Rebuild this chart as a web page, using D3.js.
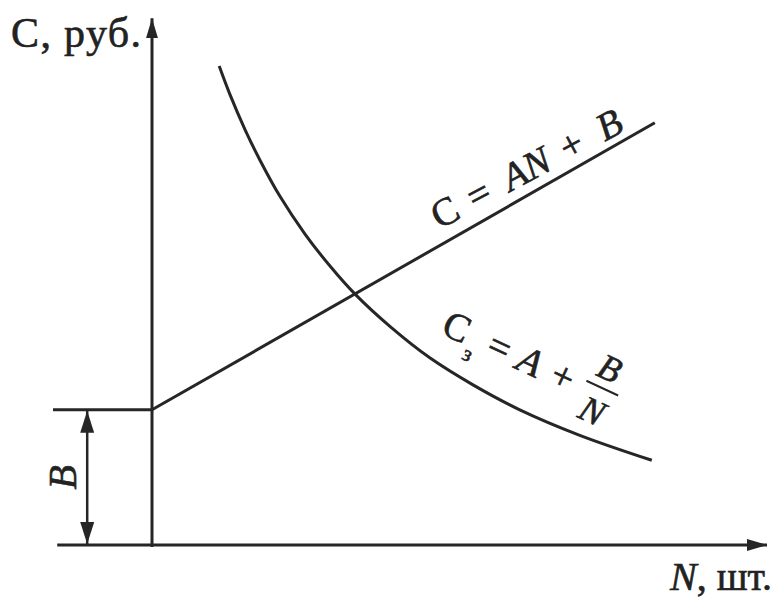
<!DOCTYPE html>
<html>
<head>
<meta charset="utf-8">
<script src="https://cdn.jsdelivr.net/npm/d3@7"></script>
<style>
  body { margin: 0; background: #fff; }
  text { font-family: "Liberation Serif", "DejaVu Serif", serif; fill: #222; stroke: #222; stroke-width: 0.6; }
</style>
</head>
<body>
<div id="chart"></div>
<script>
// total cost line C = AN + B
const costLineN = [0, 83.8];
const costLineC = [26, 81.2];
// unit cost curve C = A + B/N
const unitCostN = [11.2, 13.0, 15.5, 18.0, 21.3, 25.5, 29.7, 33.8, 39.7, 46.3, 53.5, 61.3, 71.3, 83.3];
const unitCostC = [92.1, 86.6, 79.9, 74.0, 67.1, 59.8, 53.6, 48.3, 42.0, 36.0, 30.8, 26.0, 21.1, 16.3];
// fixed cost level B and how far the guide line reaches left
const fixedCostB = 26;
const guideStartN = -16.5;
const dimensionN = -10.8;
// axis extents
const axisNRange = [-15.8, 102.5];
const axisCRange = [-0.4, 101.3];
// labels
const yAxisLabel = 'С, руб.';
const xAxisLabel = ['N', ', шт.'];

const width = 774, height = 601;
const ink = '#262626';

const svg = d3.select('#chart').append('svg')
  .attr('width', width)
  .attr('height', height)
  .attr('viewBox', `0 0 ${width} ${height}`);

const x = d3.scaleLinear().domain([0, 100]).range([152, 752]);
const y = d3.scaleLinear().domain([0, 100]).range([545, 25]);

// arrow heads
const defs = svg.append('defs');
function arrow(id, len, half) {
  defs.append('marker')
    .attr('id', id)
    .attr('markerUnits', 'userSpaceOnUse')
    .attr('viewBox', `0 ${-half} ${len} ${half * 2}`)
    .attr('refX', len)
    .attr('refY', 0)
    .attr('markerWidth', len)
    .attr('markerHeight', half * 2)
    .attr('orient', 'auto-start-reverse')
    .append('path')
    .attr('d', `M0,${-half}L${len},0L0,${half}Z`)
    .attr('fill', ink);
}
arrow('axisArrow', 20, 6);
arrow('dimArrow', 22, 7);

// axes
svg.append('line')
  .attr('x1', x(0)).attr('x2', x(0))
  .attr('y1', y(axisCRange[0])).attr('y2', y(axisCRange[1]))
  .attr('stroke', ink).attr('stroke-width', 3)
  .attr('marker-end', 'url(#axisArrow)');

svg.append('line')
  .attr('x1', x(axisNRange[0])).attr('x2', x(axisNRange[1]))
  .attr('y1', y(0)).attr('y2', y(0))
  .attr('stroke', ink).attr('stroke-width', 3)
  .attr('marker-end', 'url(#axisArrow)');

// fixed cost guide line
svg.append('line')
  .attr('x1', x(guideStartN)).attr('x2', x(0))
  .attr('y1', y(fixedCostB)).attr('y2', y(fixedCostB))
  .attr('stroke', ink).attr('stroke-width', 3);

// dimension arrow for B
svg.append('line')
  .attr('x1', x(dimensionN)).attr('x2', x(dimensionN))
  .attr('y1', y(0) - 1).attr('y2', y(fixedCostB) + 1)
  .attr('stroke', ink).attr('stroke-width', 2.5)
  .attr('marker-start', 'url(#dimArrow)')
  .attr('marker-end', 'url(#dimArrow)');

svg.append('text')
  .attr('transform', `translate(${x(dimensionN) - 11},${y(fixedCostB / 2)}) rotate(-90)`)
  .attr('text-anchor', 'middle')
  .attr('font-size', 40)
  .attr('font-style', 'italic')
  .text('B');

// curves
const line = d3.line().x(d => x(d[0])).y(d => y(d[1]));
svg.append('path')
  .datum(d3.zip(costLineN, costLineC))
  .attr('d', line)
  .attr('fill', 'none').attr('stroke', ink).attr('stroke-width', 3);

svg.append('path')
  .datum(d3.zip(unitCostN, unitCostC))
  .attr('d', line.curve(d3.curveCatmullRom))
  .attr('fill', 'none').attr('stroke', ink).attr('stroke-width', 3);

// axis labels
svg.append('text')
  .attr('x', 11).attr('y', 47)
  .attr('font-size', 42)
  .attr('textLength', 130)
  .text(yAxisLabel);

const xl = svg.append('text')
  .attr('x', 772).attr('y', 590)
  .attr('text-anchor', 'end')
  .attr('font-size', 40);
xl.append('tspan').attr('font-style', 'italic').text(xAxisLabel[0]);
xl.append('tspan').text(xAxisLabel[1]);

// label along the straight line
const g1 = svg.append('g').attr('transform', 'translate(445,212) rotate(-28)');
[['С', 0, 'normal'], ['=', 38, 'normal'], ['AN', 92, 'italic'], ['+', 143, 'normal'], ['B', 186, 'italic']]
  .forEach(([t, px, st]) => {
    g1.append('text')
      .attr('x', px).attr('y', 13)
      .attr('text-anchor', 'middle')
      .attr('font-size', 39)
      .attr('font-style', st)
      .text(t);
  });

// label along the curve
const g2 = svg.append('g').attr('transform', 'translate(457,327) rotate(25)');
[['С', 0, 13, 39, 'normal'], ['з', 21, 27, 22, 'normal'], ['=', 47, 13, 39, 'normal'],
 ['A', 81, 13, 39, 'italic'], ['+', 117, 13, 39, 'normal'], ['B', 156, -15, 36, 'italic'], ['N', 158, 31, 36, 'italic']]
  .forEach(([t, px, py, fs, st]) => {
    g2.append('text')
      .attr('x', px).attr('y', py)
      .attr('text-anchor', 'middle')
      .attr('font-size', fs)
      .attr('font-style', st)
      .text(t);
  });
g2.append('line')
  .attr('x1', 140).attr('x2', 175)
  .attr('y1', -6).attr('y2', -6)
  .attr('stroke', ink).attr('stroke-width', 2);
</script>
</body>
</html>
